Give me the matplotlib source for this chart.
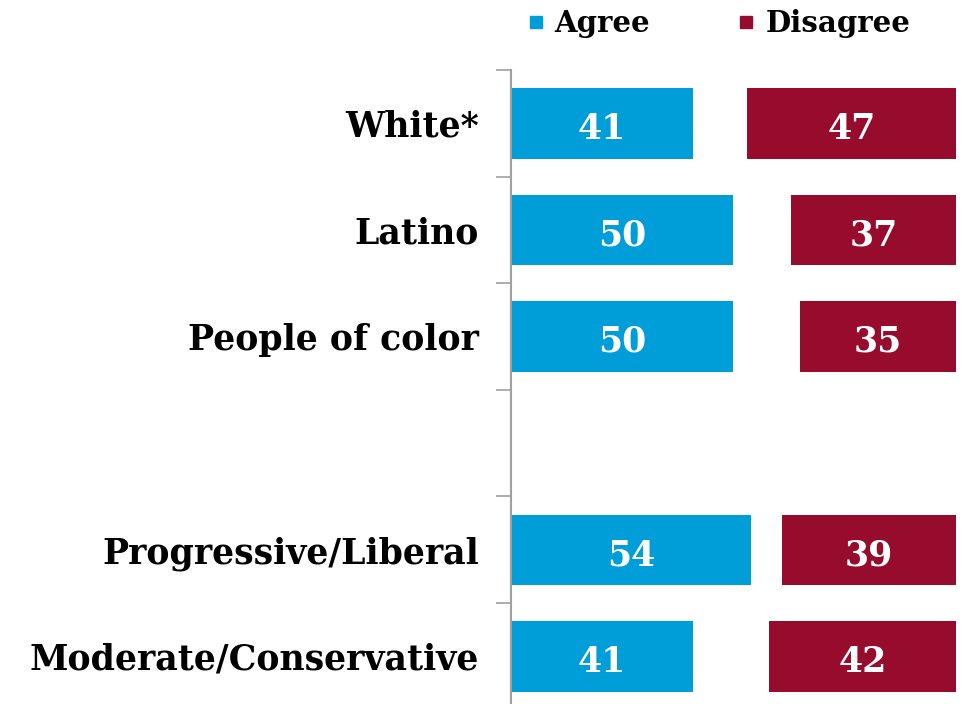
import numpy as np
import matplotlib.pyplot as plt
from matplotlib.lines import Line2D

# Data (blank row separates the two groups)
categories = ['White*', 'Latino', 'People of color', '', 'Progressive/Liberal', 'Moderate/Conservative']
agree = [41, 50, 50, np.nan, 54, 41]
disagree = [47, 37, 35, np.nan, 39, 42]

blue = '#009ED9'
red = '#970C2C'
font = 'DejaVu Serif'

fig = plt.figure(figsize=(9.72, 7.04), dpi=100)
ax = fig.add_axes([0.5257, -0.008, 0.4578, 0.9085])

y = np.arange(len(categories))
agree_arr = np.array(agree, dtype=float)
dis_arr = np.array(disagree, dtype=float)

ax.barh(y, agree_arr, height=0.66, color=blue)
ax.barh(y, dis_arr, left=100 - dis_arr, height=0.66, color=red)

for i in range(len(categories)):
    if np.isnan(agree_arr[i]):
        continue
    ax.text(agree_arr[i] / 2, y[i] + 0.05, f'{int(agree_arr[i])}', ha='center', va='center',
            color='white', fontsize=25, fontweight='bold', family=font)
    ax.text(100 - dis_arr[i] / 2, y[i] + 0.05, f'{int(dis_arr[i])}', ha='center', va='center',
            color='white', fontsize=25, fontweight='bold', family=font)

ax.set_xlim(0, 100)
ax.set_ylim(len(categories) - 0.5, -0.5)

# tick marks at row boundaries, labels at row centres
ax.set_yticks(np.arange(len(categories) + 1) - 0.5)
ax.set_yticklabels([])
ax.set_yticks(y, minor=True)
ax.set_yticklabels(categories, minor=True, fontsize=25, fontweight='bold', family=font)
ax.tick_params(axis='y', which='major', length=11, width=1.2, color='#A0A0A0', direction='out')
ax.tick_params(axis='y', which='minor', length=0, pad=23)

ax.xaxis.set_visible(False)
for s in ['top', 'right', 'bottom']:
    ax.spines[s].set_visible(False)
ax.spines['left'].set_color('#A0A0A0')
ax.spines['left'].set_linewidth(1.5)

handles = [Line2D([], [], marker='s', linestyle='none', markersize=8, color=blue),
           Line2D([], [], marker='s', linestyle='none', markersize=8, color=red)]
fig.legend(handles, ['Agree', 'Disagree'], loc='upper left', bbox_to_anchor=(0.509, 1.024),
           ncol=2, frameon=False, handletextpad=0.15, columnspacing=2.8, handlelength=1.0,
           prop={'family': font, 'weight': 'bold', 'size': 21})

fig.savefig('out.png', dpi=100)
